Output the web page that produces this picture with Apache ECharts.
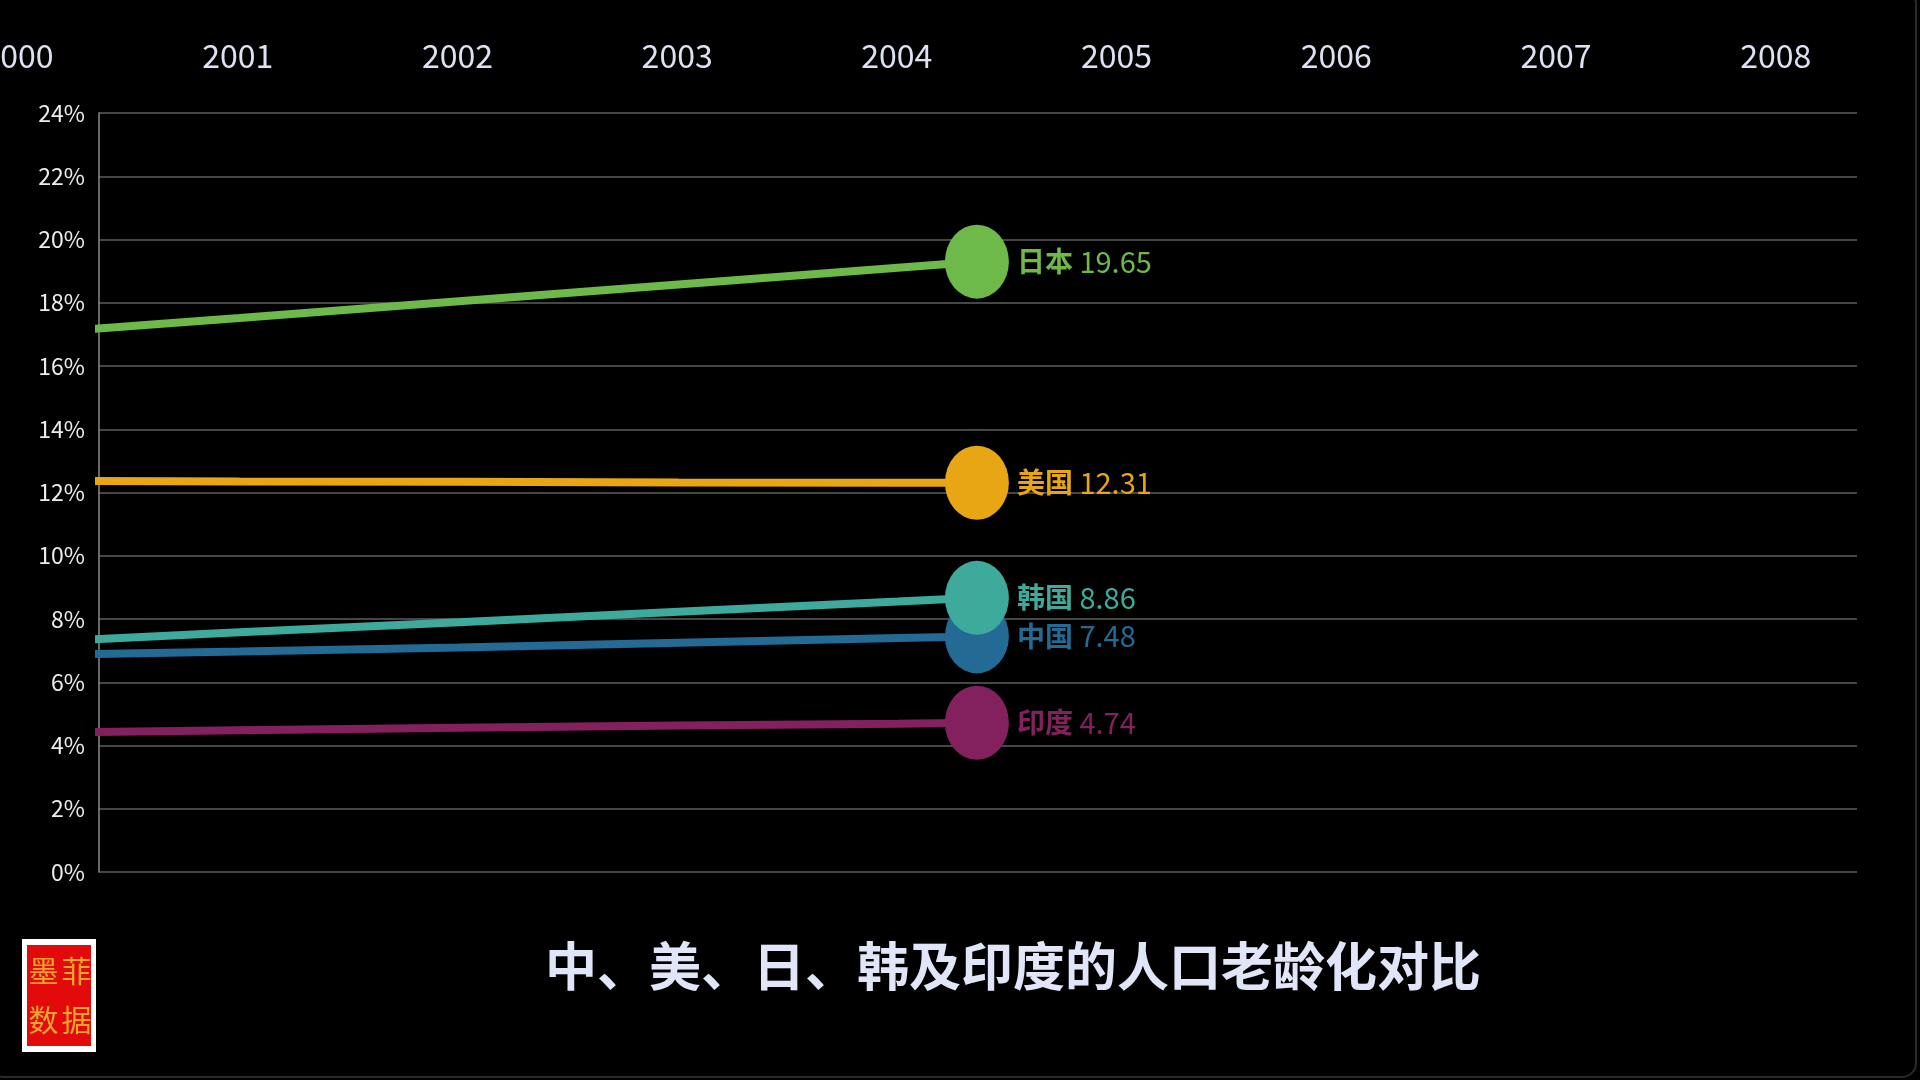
<!DOCTYPE html>
<html>
<head>
<meta charset="utf-8">
<title>中、美、日、韩及印度的人口老龄化对比</title>
<script src="https://cdn.jsdelivr.net/npm/echarts@6/dist/echarts.min.js"></script>
<style>
  html, body { margin: 0; padding: 0; background: #000; }
  #chart { width: 1920px; height: 1080px; }
</style>
</head>
<body>
<div id="chart"></div>
<script>
// ---- data ----
const years = [2000, 2001, 2002, 2003, 2004];
const currentYear = 2004.36;           // animation frame position between 2004 and 2005
const countries = ['印度', '中国', '韩国', '美国', '日本'];
const india = [4.40, 4.48, 4.56, 4.63, 4.69];
const china = [6.85, 6.97, 7.10, 7.25, 7.40];
const korea = [7.25, 7.58, 7.90, 8.23, 8.55];
const usa   = [12.37, 12.35, 12.34, 12.32, 12.31];
const japan = [17.00, 17.52, 18.05, 18.58, 19.11];
const currentValues = [4.72, 7.45, 8.67, 12.31, 19.30];   // dot position in this frame
const shownValues = ['4.74', '7.48', '8.86', '12.31', '19.65']; // numbers printed in labels
const colors = ['#83215f', '#236a94', '#3eaa9c', '#e8a614', '#6db94a'];
const xTickYears = [2000, 2001, 2002, 2003, 2004, 2005, 2006, 2007, 2008];
const yTicks = [0, 2, 4, 6, 8, 10, 12, 14, 16, 18, 20, 22, 24];
const titleText = '中、美、日、韩及印度的人口老龄化对比';
const logoChars = ['墨', '菲', '数', '据'];

const seriesValues = [india, china, korea, usa, japan];
const FONT = '"Noto Sans CJK SC", "Noto Sans", sans-serif';

const chart = echarts.init(document.getElementById('chart'), null, { renderer: 'canvas' });

const series = [];
countries.forEach((name, i) => {
  const pts = years.map((y, k) => [y, seriesValues[i][k]]);
  pts.push([currentYear, currentValues[i]]);
  series.push({
    type: 'line',
    name: name,
    xAxisIndex: 0, yAxisIndex: 0,
    data: pts,
    symbol: 'none',
    clip: true,
    lineStyle: { color: colors[i], width: 8 },
    z: 2 + i,
    animation: false
  });
});
countries.forEach((name, i) => {
  series.push({
    type: 'scatter',
    name: name + '_dot',
    xAxisIndex: 0, yAxisIndex: 0,
    data: [[currentYear, currentValues[i]]],
    symbol: 'circle',
    symbolSize: [64, 74],
    itemStyle: { color: colors[i], opacity: 1 },
    z: 10 + i,
    animation: false,
    label: {
      show: true,
      position: 'right',
      distance: 8,
      formatter: '{n|' + name + '}{v| ' + shownValues[i] + '}',
      rich: {
        n: { fontSize: 28, fontWeight: 'bold', color: colors[i], fontFamily: FONT },
        v: { fontSize: 29, color: colors[i], fontFamily: FONT }
      }
    }
  });
});

const option = {
  backgroundColor: '#000',
  animation: false,
  title: {
    text: titleText,
    left: 1008,
    top: 961,
    textAlign: 'center',
    textVerticalAlign: 'middle',
    textStyle: { color: '#e1e5f8', fontSize: 52, fontWeight: 'bold', fontFamily: FONT }
  },
  grid: [
    { left: 99, right: 63, top: 113, bottom: 208, outerBoundsMode: 'none', containLabel: false },
    { left: 18, right: 63, top: 90, height: 10, outerBoundsMode: 'none', containLabel: false }
  ],
  xAxis: [
    {
      type: 'value', gridIndex: 0,
      min: 2000.36, max: 2008.37,
      show: false, splitLine: { show: false }
    },
    {
      type: 'value', gridIndex: 1, position: 'top',
      min: xTickYears[0], max: 2008.37, interval: 1,
      axisLine: { show: false }, axisTick: { show: false }, splitLine: { show: false },
      axisLabel: {
        color: '#dde1f2', fontSize: 32, fontFamily: FONT, margin: 18,
        showMaxLabel: false, alignMinLabel: 'center', alignMaxLabel: 'center',
        formatter: v => (xTickYears.indexOf(v) >= 0 ? String(v) : '')
      }
    }
  ],
  yAxis: [
    {
      type: 'value', gridIndex: 0,
      min: yTicks[0], max: yTicks[yTicks.length - 1], interval: 2,
      axisLine: { show: true, lineStyle: { color: '#8a8a8a', width: 1.5 } },
      axisTick: { show: false },
      splitLine: { show: true, lineStyle: { color: '#5e5e5e', width: 1.5 } },
      axisLabel: { color: '#ececec', fontSize: 23, fontFamily: FONT, margin: 14, formatter: '{value}%' }
    },
    { type: 'value', gridIndex: 1, show: false, splitLine: { show: false } }
  ],
  graphic: [
    {
      type: 'rect', silent: true,
      shape: { x: -10, y: -10, width: 1926, height: 1087, r: 14 },
      style: { fill: 'none', stroke: '#2a2a2a', lineWidth: 2 }
    },
    {
      type: 'group', left: 22, top: 939,
      children: [
        { type: 'rect', shape: { x: 0, y: 0, width: 74, height: 113 }, style: { fill: '#ffffff' } },
        { type: 'rect', shape: { x: 5, y: 6, width: 64, height: 101 }, style: { fill: '#e20a0a' } },
        { type: 'text', x: 21.5, y: 32, style: { text: logoChars[0], fill: '#f4a62a', font: '30px ' + FONT, textAlign: 'center', textVerticalAlign: 'middle' } },
        { type: 'text', x: 54.5, y: 32, style: { text: logoChars[1], fill: '#f4a62a', font: '30px ' + FONT, textAlign: 'center', textVerticalAlign: 'middle' } },
        { type: 'text', x: 21.5, y: 81, style: { text: logoChars[2], fill: '#f4a62a', font: '30px ' + FONT, textAlign: 'center', textVerticalAlign: 'middle' } },
        { type: 'text', x: 54.5, y: 81, style: { text: logoChars[3], fill: '#f4a62a', font: '30px ' + FONT, textAlign: 'center', textVerticalAlign: 'middle' } }
      ]
    }
  ],
  series: series
};

chart.setOption(option);
</script>
</body>
</html>
